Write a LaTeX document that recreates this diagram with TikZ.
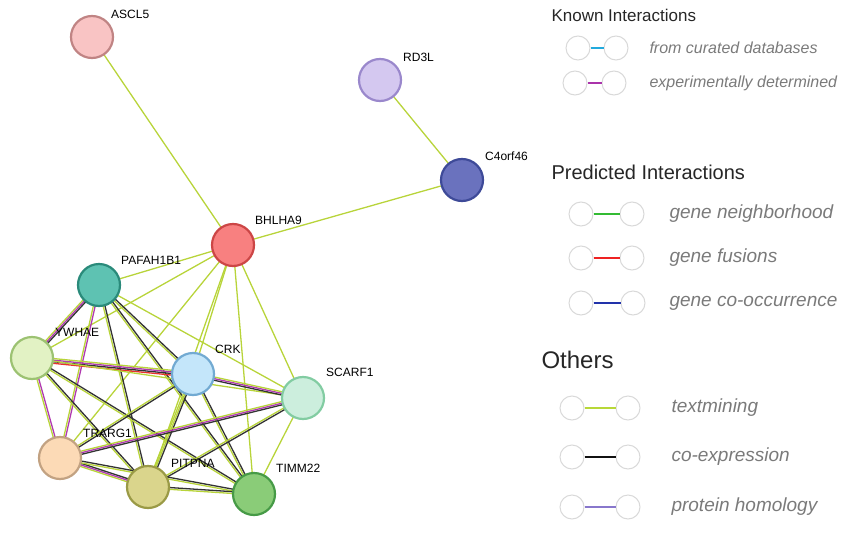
\documentclass[tikz,border=0pt]{standalone}
\usepackage{fontspec}
\setmainfont{Liberation Sans}
\usetikzlibrary{calc}
\pgfdeclarelayer{bg}
\pgfsetlayers{bg,main}
\definecolor{tm}{HTML}{B8D43A}
\definecolor{ce}{HTML}{333333}
\definecolor{ex}{HTML}{B03AB0}
\definecolor{gf}{HTML}{E83030}
\definecolor{lg}{HTML}{7A7A7A}
\definecolor{fA}{HTML}{F9C4C4}\definecolor{dA}{HTML}{C08484}
\definecolor{fB}{HTML}{D4C8F0}\definecolor{dB}{HTML}{9A88CC}
\definecolor{fC}{HTML}{6A72BE}\definecolor{dC}{HTML}{3E4A98}
\definecolor{fD}{HTML}{F88080}\definecolor{dD}{HTML}{CC4646}
\definecolor{fE}{HTML}{5EC2B2}\definecolor{dE}{HTML}{2A8A7A}
\definecolor{fF}{HTML}{E2F2C4}\definecolor{dF}{HTML}{9CC272}
\definecolor{fG}{HTML}{C4E6FA}\definecolor{dG}{HTML}{72AAD2}
\definecolor{fH}{HTML}{CCEEDD}\definecolor{dH}{HTML}{82CCA2}
\definecolor{fI}{HTML}{FCDAB6}\definecolor{dI}{HTML}{C2A282}
\definecolor{fJ}{HTML}{8ACC78}\definecolor{dJ}{HTML}{469A46}
\definecolor{fK}{HTML}{DAD58C}\definecolor{dK}{HTML}{9A9A46}
\definecolor{l1}{HTML}{22AADD}
\definecolor{l2}{HTML}{AA33AA}
\definecolor{l3}{HTML}{33BB33}
\definecolor{l4}{HTML}{EE2222}
\definecolor{l5}{HTML}{2233AA}
\definecolor{l6}{HTML}{B8D838}
\definecolor{l7}{HTML}{111111}
\definecolor{l8}{HTML}{8877CC}
\newcommand\edgeline[4]{\draw[#4,line width=1.3pt] ($(#1)!#3!90:(#2)$) -- ($(#2)!#3!-90:(#1)$);}
\tikzset{
 prot/.style 2 args={circle,minimum size=42pt,line width=2.2pt,fill=#1,draw=#2,inner sep=0pt},
 lab/.style={font=\fontsize{12}{14}\selectfont,text=black,inner sep=1pt},
 lcirc/.style={circle,draw=black!15,line width=1pt,minimum size=24pt,inner sep=0pt},
 litem/.style={anchor=west,text=lg},
 lhead/.style={anchor=west,text=black!85},
}
\begin{document}
\begin{tikzpicture}[x=1pt,y=-1pt]
\useasboundingbox (0,0) rectangle (864,543);
% proteins
\node[prot={fA}{dA}] (ascl) at (92,37) {};
\node[prot={fB}{dB}] (rd3l) at (380,80) {};
\node[prot={fC}{dC}] (c4) at (462,180) {};
\node[prot={fD}{dD}] (bhl) at (233,245) {};
\node[prot={fE}{dE}] (paf) at (99,285) {};
\node[prot={fF}{dF}] (ywh) at (32,358) {};
\node[prot={fG}{dG}] (crk) at (193,374) {};
\node[prot={fH}{dH}] (scf) at (303,398) {};
\node[prot={fI}{dI}] (trg) at (60,458) {};
\node[prot={fJ}{dJ}] (tim) at (254,494) {};
\node[prot={fK}{dK}] (pit) at (148,487) {};
% labels
\node[lab,anchor=south west] (lascl) at (110,20) {ASCL5};
\node[lab,anchor=south west] (lrd3l) at (402,63) {RD3L};
\node[lab,anchor=south west] (lc4) at (484,162) {C4orf46};
\node[lab,anchor=south west] (lbhl) at (254,226) {BHLHA9};
\node[lab,anchor=south west] (lpaf) at (120,266) {PAFAH1B1};
\node[lab,anchor=south west] (lywh) at (54,338) {YWHAE};
\node[lab,anchor=south west] (lcrk) at (214,355) {CRK};
\node[lab,anchor=south west] (lscf) at (325,378) {SCARF1};
\node[lab,anchor=south west] (ltrg) at (82,439) {TRARG1};
\node[lab,anchor=south west] (ltim) at (275,474) {TIMM22};
\node[lab,anchor=south west] (lpit) at (170,469) {PITPNA};
\begin{pgfonlayer}{bg}
\edgeline{ascl}{bhl}{0pt}{tm}
\edgeline{rd3l}{c4}{0pt}{tm}
\edgeline{c4}{bhl}{0pt}{tm}
\foreach \n in {paf,ywh,crk,scf,trg,tim,pit}{\edgeline{bhl}{\n}{0pt}{tm}}
% PAFAH1B1
\edgeline{paf}{ywh}{-1.6pt}{tm}\edgeline{paf}{ywh}{0pt}{ex}\edgeline{paf}{ywh}{1.6pt}{ce}
\edgeline{paf}{crk}{-0.9pt}{tm}\edgeline{paf}{crk}{0.9pt}{ce}
\edgeline{paf}{scf}{0pt}{tm}
\edgeline{paf}{trg}{-0.9pt}{tm}\edgeline{paf}{trg}{0.9pt}{ex}
\edgeline{paf}{pit}{-0.9pt}{tm}\edgeline{paf}{pit}{0.9pt}{ce}
\edgeline{paf}{tim}{-0.9pt}{tm}\edgeline{paf}{tim}{0.9pt}{ce}
% YWHAE
\edgeline{ywh}{crk}{-3.2pt}{gf}\edgeline{ywh}{crk}{-1.6pt}{ce}\edgeline{ywh}{crk}{0pt}{ex}\edgeline{ywh}{crk}{1.6pt}{tm}
\edgeline{ywh}{scf}{0pt}{tm}
\edgeline{ywh}{trg}{-0.9pt}{tm}\edgeline{ywh}{trg}{0.9pt}{ex}
\edgeline{ywh}{pit}{-0.9pt}{tm}\edgeline{ywh}{pit}{0.9pt}{ce}
\edgeline{ywh}{tim}{-0.9pt}{tm}\edgeline{ywh}{tim}{0.9pt}{ce}
% CRK
\edgeline{crk}{scf}{-1.6pt}{ce}\edgeline{crk}{scf}{0pt}{ex}\edgeline{crk}{scf}{1.6pt}{tm}
\edgeline{crk}{trg}{-0.9pt}{tm}\edgeline{crk}{trg}{0.9pt}{ce}
\edgeline{crk}{pit}{-1.6pt}{tm}\edgeline{crk}{pit}{0pt}{tm}\edgeline{crk}{pit}{1.6pt}{ce}
\edgeline{crk}{tim}{-0.9pt}{tm}\edgeline{crk}{tim}{0.9pt}{ce}
% SCARF1
\edgeline{scf}{trg}{-1.6pt}{tm}\edgeline{scf}{trg}{0pt}{ex}\edgeline{scf}{trg}{1.6pt}{ce}
\edgeline{scf}{pit}{-0.9pt}{tm}\edgeline{scf}{pit}{0.9pt}{ce}
\edgeline{scf}{tim}{0pt}{tm}
% TRARG1
\edgeline{trg}{pit}{-1.6pt}{tm}\edgeline{trg}{pit}{0pt}{ex}\edgeline{trg}{pit}{1.6pt}{ce}
\edgeline{trg}{tim}{-0.9pt}{tm}\edgeline{trg}{tim}{0.9pt}{ce}
\edgeline{pit}{tim}{-0.9pt}{tm}\edgeline{pit}{tim}{0.9pt}{ce}
\end{pgfonlayer}
% legend
\node[lhead,font=\fontsize{17}{20}\selectfont] (h1) at (548,15) {Known Interactions};
\node[lhead,font=\fontsize{20}{24}\selectfont] (h2) at (548,172) {Predicted Interactions};
\node[lhead,font=\fontsize{24}{28}\selectfont] (h3) at (538,360) {Others};
\foreach \y/\c/\t/\xa/\xb/\xt/\fs in {
 48/l1/from curated databases/578/616/646/16,
 83/l2/experimentally determined/575/614/646/16,
 214/l3/gene neighborhood/581/632/666/19,
 258/l4/gene fusions/581/632/666/19,
 303/l5/gene co-occurrence/581/633/666/19,
 408/l6/textmining/572/628/668/19,
 457/l7/co-expression/572/628/668/19,
 507/l8/protein homology/572/628/668/19}{
 \node[lcirc] (la\y) at (\xa,\y) {};
 \node[lcirc] (lb\y) at (\xb,\y) {};
 \draw[\c,line width=2.5pt] (la\y.east) -- (lb\y.west);
 \node[litem,font=\itshape\fontsize{\fs}{20}\selectfont] (lt\y) at (\xt,\y) {\t};
}
\end{tikzpicture}
\end{document}
